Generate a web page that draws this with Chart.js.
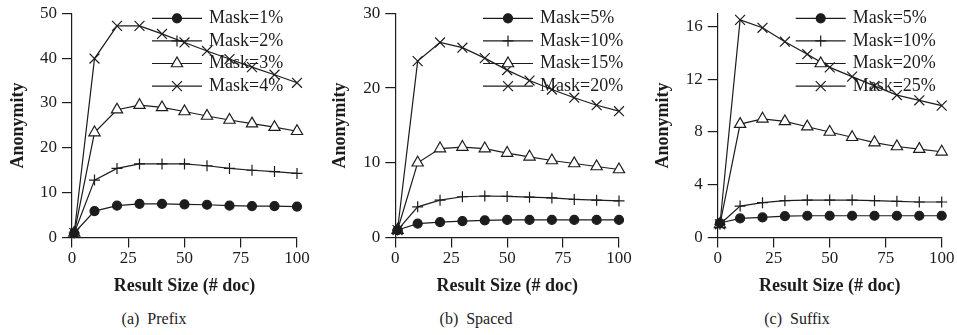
<!DOCTYPE html>
<html>
<head>
<meta charset="utf-8">
<script src="https://cdn.jsdelivr.net/npm/chart.js@4.4.1/dist/chart.umd.min.js"></script>
<style>
  html, body { margin: 0; padding: 0; background: #fff; }
  #wrap { position: relative; width: 957px; height: 335px; overflow: hidden; }
  canvas { position: absolute; top: 0; }
  .cap { position: absolute; width: 200px; text-align: center; top: 309px; line-height: 20px;
         font-family: "Liberation Serif", "Times New Roman", serif; font-size: 16px; color: #222; white-space: pre; }
</style>
</head>
<body>
<div id="wrap">
  <canvas id="cPrefix" width="320" height="300" style="left:0px"></canvas>
  <canvas id="cSpaced" width="320" height="300" style="left:320px"></canvas>
  <canvas id="cSuffix" width="317" height="300" style="left:640px"></canvas>
  <div class="cap" style="left:54px">(a)  Prefix</div>
  <div class="cap" style="left:376px">(b)  Spaced</div>
  <div class="cap" style="left:697px">(c)  Suffix</div>
</div>
<script>
// Result size (number of documents) on the x axis
const resultSize = [1, 10, 20, 30, 40, 50, 60, 70, 80, 90, 100];
const xTicks = [0, 25, 50, 75, 100];

// (a) Prefix
const prefixLabels = ['Mask=1%', 'Mask=2%', 'Mask=3%', 'Mask=4%'];
const prefixMask1 = [1.0, 5.9, 7.1, 7.5, 7.5, 7.4, 7.3, 7.1, 7.0, 7.0, 6.9];
const prefixMask2 = [1.0, 12.8, 15.4, 16.4, 16.4, 16.4, 16.0, 15.4, 15.0, 14.7, 14.3];
const prefixMask3 = [1.0, 23.4, 28.5, 29.5, 29.0, 28.1, 27.1, 26.2, 25.4, 24.6, 23.7];
const prefixMask4 = [1.0, 39.9, 47.2, 47.2, 45.4, 43.5, 41.6, 39.8, 38.0, 36.3, 34.5];
const prefixYTicks = [0, 10, 20, 30, 40, 50];

// (b) Spaced
const spacedLabels = ['Mask=5%', 'Mask=10%', 'Mask=15%', 'Mask=20%'];
const spacedMask5 = [1.0, 1.85, 2.05, 2.2, 2.3, 2.35, 2.35, 2.35, 2.35, 2.35, 2.35];
const spacedMask10 = [1.0, 4.1, 5.0, 5.45, 5.55, 5.5, 5.4, 5.3, 5.1, 5.0, 4.9];
const spacedMask15 = [1.0, 10.0, 11.9, 12.1, 11.9, 11.3, 10.8, 10.3, 9.9, 9.5, 9.1];
const spacedMask20 = [1.0, 23.6, 26.1, 25.4, 24.0, 22.4, 21.0, 19.8, 18.7, 17.7, 16.9];
const spacedYTicks = [0, 10, 20, 30];

// (c) Suffix
const suffixLabels = ['Mask=5%', 'Mask=10%', 'Mask=20%', 'Mask=25%'];
const suffixMask5 = [1.1, 1.45, 1.52, 1.62, 1.65, 1.65, 1.65, 1.65, 1.65, 1.65, 1.65];
const suffixMask10 = [1.0, 2.38, 2.64, 2.79, 2.84, 2.84, 2.84, 2.79, 2.74, 2.69, 2.69];
const suffixMask20 = [1.0, 8.6, 9.0, 8.8, 8.4, 8.0, 7.6, 7.2, 6.9, 6.7, 6.5];
const suffixMask25 = [1.0, 16.5, 15.9, 14.85, 13.9, 12.9, 12.2, 11.5, 10.8, 10.4, 10.0];
const suffixYTicks = [0, 4, 8, 12, 16];

const INK = '#1c1c1c';
const SERIF = '"Liberation Serif", "Times New Roman", serif';

// marker look for the four series, in legend order
const markers = [
  { pointStyle: 'circle',   pointRadius: 4.5, pointBackgroundColor: INK },
  { pointStyle: 'cross',    pointRadius: 5.5, pointBackgroundColor: INK },
  { pointStyle: 'triangle', pointRadius: 6.5, pointBackgroundColor: '#ffffff' },
  { pointStyle: 'crossRot', pointRadius: 7,   pointBackgroundColor: INK }
];

function makeDatasets(labels, series) {
  return series.map((vals, i) => Object.assign({
    label: labels[i],
    data: vals.map((v, k) => ({ x: resultSize[k], y: v })),
    borderColor: INK,
    borderWidth: 1.2,
    pointBorderColor: INK,
    pointBorderWidth: 1.2,
    tension: 0,
    clip: false
  }, markers[i]));
}

// legend drawn inside the plot: line sample with its marker, then the label
const lineLegend = {
  id: 'lineLegend',
  afterDatasetsDraw(chart, args, opts) {
    const { ctx, chartArea } = chart;
    const x0 = chartArea.right + opts.offsetX;
    ctx.save();
    chart.data.datasets.forEach((ds, i) => {
      const y = chartArea.top + opts.firstRow + i * opts.rowGap;
      ctx.strokeStyle = ds.borderColor;
      ctx.lineWidth = ds.borderWidth;
      ctx.beginPath();
      ctx.moveTo(x0, y);
      ctx.lineTo(x0 + opts.sampleWidth, y);
      ctx.stroke();
      ctx.fillStyle = ds.pointBackgroundColor;
      ctx.strokeStyle = ds.pointBorderColor;
      ctx.lineWidth = ds.pointBorderWidth;
      Chart.helpers.drawPoint(ctx, {
        pointStyle: ds.pointStyle, radius: ds.pointRadius, rotation: 0, borderWidth: ds.pointBorderWidth
      }, x0 + opts.sampleWidth / 2, y);
      ctx.fillStyle = INK;
      ctx.font = '18px ' + SERIF;
      ctx.textBaseline = 'middle';
      ctx.textAlign = 'left';
      ctx.fillText(ds.label, x0 + opts.sampleWidth + opts.textGap, y);
    });
    ctx.restore();
  }
};

function makeChart(id, labels, series, yTicks, yMax, yWidth, rightPad, yTitlePad, legendOffset) {
  return new Chart(document.getElementById(id), {
    type: 'line',
    data: { datasets: makeDatasets(labels, series) },
    plugins: [lineLegend],
    options: {
      responsive: false,
      devicePixelRatio: 1,
      animation: false,
      layout: { padding: { left: 0, right: rightPad, top: 13.3, bottom: 0 } },
      plugins: {
        legend: { display: false },
        tooltip: { enabled: false },
        lineLegend: { offsetX: legendOffset, firstRow: 5, rowGap: 22.6, sampleWidth: 50, textGap: 7 }
      },
      scales: {
        x: {
          type: 'linear',
          min: 0, max: 100,
          afterBuildTicks: s => { s.ticks = xTicks.map(v => ({ value: v })); },
          afterFit: s => { s.height = 62.5; s.paddingLeft = 0; s.paddingRight = 0; },
          border: { display: true, color: INK, width: 1.2 },
          grid: { display: true, drawOnChartArea: false, drawTicks: true, tickLength: 10, color: INK, lineWidth: 1.2 },
          ticks: { font: { family: SERIF, size: 17 }, color: INK, padding: 1, maxRotation: 0 },
          title: {
            display: true, text: 'Result Size (# doc)', color: INK,
            font: { family: SERIF, size: 18, weight: 'bold' }, padding: { top: 0, bottom: 2.5 }
          }
        },
        y: {
          type: 'linear',
          min: 0, max: yMax,
          afterBuildTicks: s => { s.ticks = yTicks.map(v => ({ value: v })); },
          afterFit: s => { s.width = yWidth; s.paddingTop = 0; s.paddingBottom = 0; },
          border: { display: true, color: INK, width: 1.2 },
          grid: { display: true, drawOnChartArea: false, drawTicks: true, tickLength: 10, color: INK, lineWidth: 1.2 },
          ticks: { font: { family: SERIF, size: 17 }, color: INK, padding: 5 },
          title: {
            display: true, text: 'Anonymity', color: INK,
            font: { family: SERIF, size: 18, weight: 'bold' }, padding: { top: yTitlePad, bottom: 0 }
          }
        }
      }
    }
  });
}

makeChart('cPrefix', prefixLabels, [prefixMask1, prefixMask2, prefixMask3, prefixMask4],
          prefixYTicks, 50, 72, 23, 7.5, -145);
makeChart('cSpaced', spacedLabels, [spacedMask5, spacedMask10, spacedMask15, spacedMask20],
          spacedYTicks, 30, 75.3, 21, 9.2, -136);
makeChart('cSuffix', suffixLabels, [suffixMask5, suffixMask10, suffixMask20, suffixMask25],
          suffixYTicks, 17, 77.7, 15.3, 12.2, -146);
</script>
</body>
</html>
